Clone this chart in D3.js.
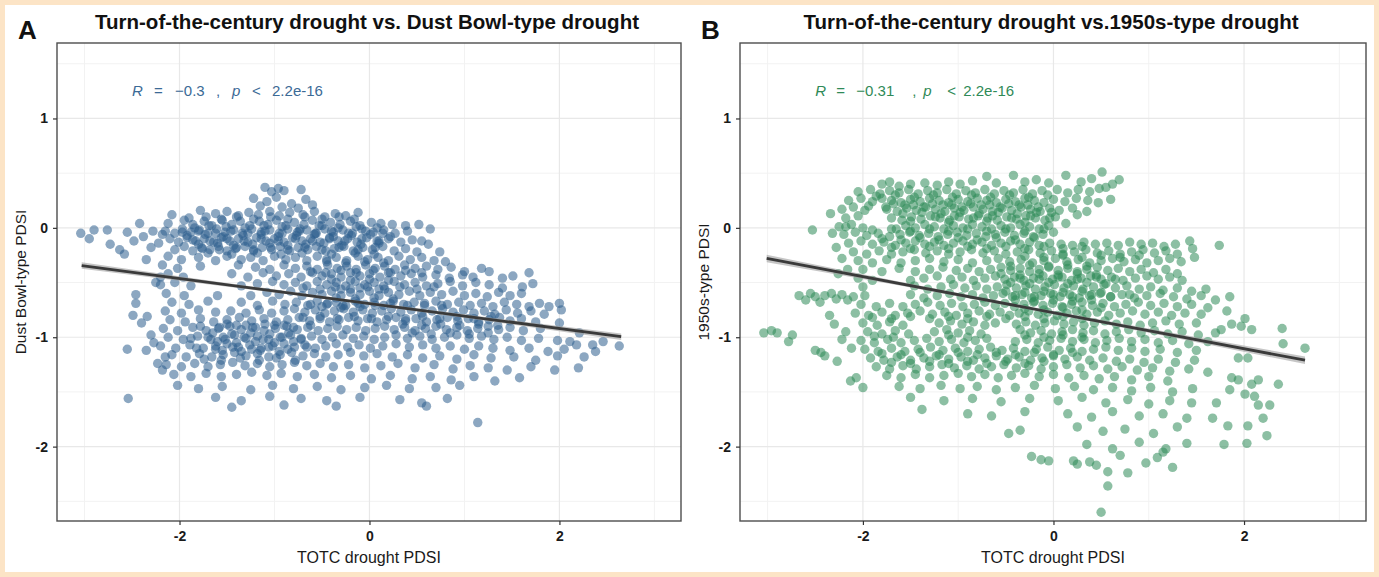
<!DOCTYPE html>
<html>
<head>
<meta charset="utf-8">
<script src="https://cdn.jsdelivr.net/npm/d3@7"></script>
<style>
  body { margin: 0; background: #fce4c6; }
  svg { display: block; font-family: "Liberation Sans", Arial, sans-serif; }
</style>
</head>
<body>
<div id="chart"></div>
<script>
// Axis setup (data units)
const xDomain = [-3.29, 3.28];
const yDomain = [-2.68, 1.69];
const xTicks = [-2, 0, 2];
const yTicks = [-2, -1, 0, 1];
const xMinor = [-3, -1, 1, 3];
const yMinor = [-2.5, -1.5, -0.5, 0.5, 1.5];

// Panel A: TOTC PDSI vs Dust Bowl-type PDSI
const dustPoints = [
  [-3.04,-0.05],[-2.95,-0.10],[-2.90,-0.02],[-2.76,-0.02],[-2.73,-0.15],[-2.63,-0.20],[-2.58,-0.24],[-2.55,-0.04],[-2.42,0.04],[-2.35,-0.29],
  [-2.46,-0.61],[-2.46,-0.69],[-2.49,-0.80],[-2.55,-1.11],[-2.54,-1.56],[-2.40,-0.87],[-2.34,-0.81],[-2.35,-1.12],[-2.23,-1.24],
  [-2.48,-0.12],[-2.38,-0.08],[-2.30,-0.18],[-2.28,-0.03],[-2.22,-0.14],[-2.18,-0.06],[-2.25,-0.50],[-2.20,-0.45],[-2.30,-0.98],[-2.27,-1.05],[-2.18,-1.30],[-2.15,-1.18],
  [-1.10,0.37],[-1.03,0.33],[-0.96,0.36],[-0.90,0.34],[-0.72,0.35],[-1.22,0.27],[-1.08,0.24],[-0.98,0.28],[-0.82,0.22],[-0.67,0.26],[-1.15,0.20],[-0.92,0.19],[-0.75,0.18],[-0.60,0.21],
  [-2.08,0.12],[-1.78,0.16],[-1.62,0.13],[-1.50,0.15],[-1.38,0.11],[-1.27,0.14],[-1.17,0.12],[-1.05,0.15],[-0.95,0.11],[-0.84,0.14],[-0.70,0.12],[-0.58,0.15],[-0.47,0.10],[-0.36,0.13],[-0.25,0.11],[-0.12,0.14],
  [-2.12,0.04],[-1.95,0.07],[-1.86,0.03],[-1.74,0.06],[-1.66,0.02],[-1.55,0.07],[-1.45,0.03],[-1.36,0.06],[-1.26,0.02],[-1.16,0.06],[-1.07,0.03],[-0.98,0.07],[-0.88,0.02],[-0.79,0.05],[-0.69,0.03],[-0.60,0.07],[-0.50,0.02],[-0.41,0.05],[-0.31,0.03],[-0.20,0.06],[-0.10,0.02],[0.02,0.05],[0.12,0.04],[0.24,0.03],[0.38,0.02],[0.52,0.03],[0.64,-0.01],
  [-2.15,-0.03],[-2.05,-0.05],[-1.97,-0.01],[-1.88,-0.04],[-1.79,-0.02],[-1.70,-0.05],[-1.61,-0.01],[-1.52,-0.04],[-1.43,-0.02],[-1.34,-0.05],[-1.24,-0.01],[-1.14,-0.04],[-1.05,-0.02],[-0.95,-0.05],[-0.86,-0.01],[-0.76,-0.04],[-0.66,-0.02],[-0.57,-0.05],[-0.47,-0.01],[-0.38,-0.04],[-0.28,-0.02],[-0.18,-0.05],[-0.08,-0.01],[0.04,-0.04],[0.15,-0.02],[0.27,-0.05],[0.40,-0.03],
  [-2.10,-0.10],[-2.01,-0.13],[-1.92,-0.09],[-1.83,-0.12],[-1.74,-0.10],[-1.64,-0.13],[-1.56,-0.09],[-1.47,-0.12],[-1.38,-0.10],[-1.28,-0.13],[-1.19,-0.09],[-1.09,-0.12],[-1.00,-0.10],[-0.90,-0.13],[-0.81,-0.09],[-0.71,-0.12],[-0.62,-0.10],[-0.52,-0.13],[-0.42,-0.09],[-0.33,-0.12],[-0.23,-0.10],[-0.13,-0.13],[-0.03,-0.09],[0.08,-0.12],[0.20,-0.10],[0.33,-0.13],[0.45,-0.11],
  [-2.05,-0.20],[-1.95,-0.17],[-1.86,-0.21],[-1.77,-0.18],[-1.68,-0.20],[-1.59,-0.17],[-1.50,-0.21],[-1.41,-0.19],[-1.31,-0.17],[-1.22,-0.21],[-1.13,-0.18],[-1.03,-0.20],[-0.94,-0.17],[-0.84,-0.21],[-0.75,-0.18],[-0.65,-0.20],[-0.56,-0.17],[-0.46,-0.21],[-0.37,-0.19],[-0.27,-0.17],[-0.17,-0.21],[-0.07,-0.18],[0.03,-0.20],[0.14,-0.17],[0.26,-0.21],[0.38,-0.19],[0.50,-0.22],
  [-2.12,-0.26],[-1.98,-0.29],[-1.80,-0.27],[-1.62,-0.30],[-1.50,-0.26],[-1.35,-0.29],[-1.25,-0.27],[-1.12,-0.30],[-1.00,-0.26],[-0.88,-0.29],[-0.78,-0.27],[-0.66,-0.30],[-0.55,-0.26],[-0.45,-0.29],[-0.35,-0.27],[-0.24,-0.30],[-0.12,-0.26],[-0.02,-0.29],[0.09,-0.27],[0.20,-0.30],[0.31,-0.26],[0.43,-0.29],[0.55,-0.27],[0.68,-0.30],
  [0.62,-0.15],[0.74,-0.22],[0.80,-0.31],[0.55,-0.12],
  [-1.84,0.00],[-1.69,0.02],[-1.51,0.01],[-1.31,0.00],[-1.11,0.02],[-0.92,0.01],[-0.73,-0.01],[-0.53,0.02],[-0.33,0.00],[-0.14,0.01],[0.08,0.00],
  [-1.92,-0.07],[-1.73,-0.06],[-1.54,-0.08],[-1.33,-0.07],[-1.14,-0.06],[-0.96,-0.08],[-0.77,-0.07],[-0.58,-0.06],[-0.38,-0.08],[-0.19,-0.07],[0.01,-0.06],[0.22,-0.08],
  [-1.80,-0.15],[-1.60,-0.14],[-1.43,-0.16],[-1.23,-0.15],[-1.05,-0.14],[-0.86,-0.16],[-0.67,-0.15],[-0.48,-0.14],[-0.29,-0.16],[-0.09,-0.15],[0.10,-0.14],
  [-1.70,-0.23],[-1.45,-0.24],[-1.18,-0.23],[-0.93,-0.24],[-0.71,-0.23],[-0.40,-0.24],[-0.15,-0.23],[0.05,-0.24],
  [-2.18,-0.34],[-2.02,-0.37],[-1.78,-0.35],[-1.38,-0.34],[-1.20,-0.36],[-1.05,-0.38],[-0.90,-0.34],[-0.78,-0.37],[-0.66,-0.35],[-0.55,-0.38],[-0.44,-0.34],[-0.34,-0.37],[-0.24,-0.35],[-0.14,-0.38],[-0.04,-0.34],[0.06,-0.37],[0.16,-0.35],[0.27,-0.38],[0.37,-0.34],[0.48,-0.37],[0.60,-0.35],[0.72,-0.38],[0.86,-0.36],[1.00,-0.40],[1.18,-0.37],[1.26,-0.40],
  [-2.12,-0.42],[-1.96,-0.45],[-1.45,-0.42],[-1.28,-0.45],[-1.12,-0.41],[-0.98,-0.44],[-0.85,-0.42],[-0.72,-0.45],[-0.60,-0.41],[-0.50,-0.44],[-0.40,-0.42],[-0.30,-0.45],[-0.20,-0.41],[-0.10,-0.44],[0.00,-0.42],[0.11,-0.45],[0.22,-0.41],[0.33,-0.44],[0.44,-0.42],[0.56,-0.45],[0.70,-0.43],[0.84,-0.46],[0.98,-0.43],[1.09,-0.45],[1.40,-0.46],[1.51,-0.44],[1.68,-0.41],
  [-2.20,-0.52],[-2.05,-0.50],[-1.88,-0.53],[-1.35,-0.53],[-1.18,-0.51],[-1.02,-0.49],[-0.90,-0.52],[-0.78,-0.50],[-0.66,-0.53],[-0.55,-0.49],[-0.45,-0.52],[-0.35,-0.50],[-0.25,-0.53],[-0.15,-0.49],[-0.05,-0.52],[0.05,-0.50],[0.15,-0.53],[0.26,-0.49],[0.37,-0.52],[0.48,-0.50],[0.60,-0.53],[0.72,-0.51],[0.85,-0.49],[0.98,-0.53],[1.12,-0.50],[1.26,-0.52],[1.40,-0.55],[1.61,-0.54],[1.72,-0.51],
  [-2.14,-0.60],[-1.95,-0.62],[-1.60,-0.62],[-1.25,-0.62],[-1.08,-0.59],[-0.95,-0.61],[-0.83,-0.58],[-0.71,-0.62],[-0.60,-0.59],[-0.50,-0.61],[-0.40,-0.58],[-0.30,-0.62],[-0.20,-0.59],[-0.10,-0.61],[0.00,-0.58],[0.10,-0.62],[0.20,-0.59],[0.31,-0.61],[0.42,-0.58],[0.53,-0.62],[0.64,-0.59],[0.76,-0.61],[0.88,-0.58],[1.00,-0.62],[1.12,-0.60],[1.24,-0.63],[1.36,-0.59],[1.48,-0.62],[1.60,-0.60],[1.79,-0.69],[1.89,-0.72],[2.00,-0.69],
  [-2.08,-0.68],[-1.90,-0.70],[-1.70,-0.67],[-1.35,-0.68],[-1.18,-0.71],[-1.02,-0.67],[-0.89,-0.70],[-0.77,-0.68],[-0.65,-0.71],[-0.55,-0.67],[-0.45,-0.70],[-0.35,-0.68],[-0.25,-0.71],[-0.15,-0.67],[-0.05,-0.70],[0.05,-0.68],[0.15,-0.71],[0.25,-0.67],[0.36,-0.70],[0.47,-0.68],[0.58,-0.71],[0.70,-0.67],[0.82,-0.70],[0.94,-0.68],[1.06,-0.71],[1.18,-0.69],[1.30,-0.72],[1.42,-0.68],[1.55,-0.70],[1.68,-0.72],[2.02,-0.75],
  [-2.15,-0.76],[-1.98,-0.78],[-1.80,-0.75],[-1.62,-0.77],[-1.46,-0.76],[-1.30,-0.78],[-1.16,-0.75],[-1.03,-0.78],[-0.90,-0.76],[-0.79,-0.74],[-0.68,-0.77],[-0.57,-0.75],[-0.47,-0.78],[-0.37,-0.76],[-0.27,-0.74],[-0.17,-0.77],[-0.07,-0.75],[0.03,-0.78],[0.13,-0.76],[0.23,-0.74],[0.33,-0.77],[0.44,-0.75],[0.55,-0.78],[0.66,-0.76],[0.77,-0.74],[0.88,-0.77],[0.99,-0.75],[1.10,-0.78],[1.21,-0.76],[1.32,-0.79],[1.44,-0.75],[1.56,-0.78],[1.70,-0.76],[1.84,-0.79],
  [-2.10,-0.84],[-1.94,-0.86],[-1.78,-0.83],[-1.64,-0.86],[-1.50,-0.84],[-1.37,-0.82],[-1.24,-0.85],[-1.11,-0.83],[-0.98,-0.86],[-0.86,-0.84],[-0.74,-0.82],[-0.63,-0.85],[-0.52,-0.83],[-0.42,-0.86],[-0.32,-0.84],[-0.22,-0.82],[-0.12,-0.85],[-0.02,-0.83],[0.08,-0.86],[0.18,-0.84],[0.28,-0.82],[0.38,-0.85],[0.49,-0.83],[0.60,-0.86],[0.71,-0.84],[0.82,-0.82],[0.93,-0.85],[1.04,-0.83],[1.15,-0.86],[1.26,-0.84],[1.37,-0.82],[1.48,-0.85],[1.60,-0.83],[1.75,-0.86],[2.00,-0.87],[2.21,-0.96],
  [-2.17,-0.92],[-2.02,-0.94],[-1.86,-0.91],[-1.72,-0.94],[-1.59,-0.92],[-1.47,-0.90],[-1.35,-0.93],[-1.23,-0.91],[-1.11,-0.94],[-0.99,-0.92],[-0.87,-0.90],[-0.76,-0.93],[-0.65,-0.91],[-0.54,-0.94],[-0.44,-0.92],[-0.34,-0.90],[-0.24,-0.93],[-0.14,-0.91],[-0.04,-0.94],[0.06,-0.92],[0.16,-0.90],[0.26,-0.93],[0.37,-0.91],[0.48,-0.94],[0.59,-0.92],[0.70,-0.90],[0.81,-0.93],[0.92,-0.91],[1.03,-0.94],[1.14,-0.92],[1.25,-0.90],[1.36,-0.93],[1.48,-0.91],[1.62,-0.94],[1.80,-0.92],
  [-2.12,-1.00],[-1.96,-1.02],[-1.81,-0.99],[-1.67,-1.02],[-1.54,-1.00],[-1.42,-0.98],[-1.30,-1.01],[-1.18,-0.99],[-1.06,-1.02],[-0.94,-1.00],[-0.83,-0.98],[-0.72,-1.01],[-0.61,-0.99],[-0.50,-1.02],[-0.39,-1.00],[-0.28,-0.98],[-0.17,-1.01],[-0.06,-0.99],[0.05,-1.02],[0.16,-1.00],[0.28,-0.98],[0.40,-1.01],[0.53,-0.99],[0.66,-1.02],[0.79,-1.00],[0.92,-0.98],[1.05,-1.01],[1.18,-0.99],[1.31,-1.02],[1.45,-1.00],[1.60,-1.03],[1.78,-1.01],[1.98,-1.03],[2.11,-1.04],[2.18,-1.07],[2.35,-1.07],[2.46,-1.04],[2.63,-1.08],
  [-2.20,-1.08],[-2.04,-1.10],[-1.89,-1.07],[-1.75,-1.10],[-1.62,-1.08],[-1.50,-1.06],[-1.38,-1.09],[-1.26,-1.07],[-1.14,-1.10],[-1.02,-1.08],[-0.90,-1.06],[-0.79,-1.09],[-0.68,-1.07],[-0.57,-1.10],[-0.46,-1.08],[-0.35,-1.06],[-0.23,-1.09],[-0.11,-1.07],[0.01,-1.10],[0.14,-1.08],[0.28,-1.06],[0.42,-1.09],[0.56,-1.07],[0.70,-1.10],[0.85,-1.08],[1.00,-1.11],[1.15,-1.08],[1.30,-1.10],[1.48,-1.12],[1.68,-1.10],[1.88,-1.13],[2.05,-1.11],[2.26,-1.18],[2.38,-1.13],
  [-2.08,-1.16],[-1.93,-1.18],[-1.79,-1.15],[-1.66,-1.18],[-1.54,-1.16],[-1.42,-1.14],[-1.30,-1.17],[-1.18,-1.15],[-1.06,-1.18],[-0.94,-1.16],[-0.82,-1.14],[-0.70,-1.17],[-0.58,-1.15],[-0.46,-1.18],[-0.33,-1.16],[-0.20,-1.14],[-0.06,-1.17],[0.08,-1.15],[0.24,-1.18],[0.40,-1.16],[0.56,-1.19],[0.74,-1.17],[0.92,-1.20],[1.10,-1.16],[1.28,-1.19],[1.52,-1.18],[1.75,-1.21],[1.98,-1.17],
  [-2.14,-1.25],[-1.98,-1.27],[-1.84,-1.24],[-1.70,-1.27],[-1.57,-1.25],[-1.44,-1.23],[-1.31,-1.26],[-1.18,-1.24],[-1.05,-1.27],[-0.92,-1.25],[-0.79,-1.23],[-0.66,-1.26],[-0.52,-1.24],[-0.38,-1.27],[-0.22,-1.25],[-0.05,-1.28],[0.12,-1.26],[0.30,-1.24],[0.48,-1.28],[0.68,-1.25],[0.88,-1.29],[1.06,-1.26],[1.25,-1.28],[1.45,-1.30],[1.70,-1.27],[1.95,-1.30],[2.20,-1.28],
  [-2.06,-1.34],[-1.88,-1.36],[-1.72,-1.33],[-1.56,-1.36],[-1.40,-1.34],[-1.24,-1.32],[-1.08,-1.35],[-0.93,-1.33],[-0.76,-1.36],[-0.58,-1.34],[-0.40,-1.37],[-0.20,-1.35],[0.02,-1.38],[0.22,-1.35],[0.45,-1.38],[0.64,-1.36],[0.86,-1.39],[1.10,-1.36],[1.32,-1.40],[1.58,-1.37],
  [-2.02,-1.44],[-1.80,-1.47],[-1.55,-1.45],[-1.25,-1.48],[-1.02,-1.44],[-0.80,-1.47],[-0.55,-1.45],[-0.30,-1.48],[-0.05,-1.46],[0.18,-1.44],[0.42,-1.47],[0.70,-1.46],[0.95,-1.44],
  [-1.62,-1.55],[-1.35,-1.58],[-1.05,-1.54],[-0.72,-1.56],[-0.45,-1.58],[-0.10,-1.55],[0.32,-1.57],[0.55,-1.60],[0.82,-1.56],
  [-1.45,-1.64],[-0.90,-1.62],[-0.35,-1.63],[0.60,-1.63],[1.14,-1.78],
  [-0.45,-0.31],[-0.25,-0.32],[-0.05,-0.31],[0.15,-0.32],[-0.40,-0.47],[-0.20,-0.48],[0.00,-0.47],[0.20,-0.48],[-0.35,-0.64],[-0.15,-0.65],[0.05,-0.64],[0.25,-0.65],[-0.30,-0.56],[-0.10,-0.55],[0.10,-0.56],[-0.50,-0.72],[-0.30,-0.73],[-0.10,-0.72],
  [-1.65,-0.96],[-1.45,-0.97],[-1.25,-0.96],[-1.05,-0.97],[-0.85,-0.96],[-1.60,-1.04],[-1.40,-1.05],[-1.20,-1.04],[-1.00,-1.05],[-0.80,-1.04],[-1.55,-1.12],[-1.35,-1.13],[-1.15,-1.12],[-0.95,-1.13],[-1.50,-0.88],[-1.30,-0.89],[-1.10,-0.88],[-0.90,-0.89],
  [0.35,-0.88],[0.55,-0.89],[0.75,-0.88],[0.95,-0.89],[1.15,-0.88],[1.35,-0.89],[0.45,-0.96],[0.65,-0.97],[0.85,-0.96],[1.05,-0.97],[1.25,-0.96]
];

// Panel A: extra points in the darkest parts of the cloud
const dustDense = [
  [-1.90,0.09],[-1.72,0.10],[-1.56,0.08],[-1.40,0.10],[-1.22,0.08],[-1.04,0.10],[-0.86,0.08],[-0.68,0.10],[-0.50,0.08],[-0.32,0.10],[-0.16,0.08],
  [-1.97,-0.04],[-1.80,-0.03],[-1.62,-0.05],[-1.46,-0.03],[-1.28,-0.05],[-1.10,-0.03],[-0.92,-0.05],[-0.74,-0.03],[-0.56,-0.05],[-0.40,-0.03],[-0.22,-0.05],[-0.04,-0.03],[0.14,-0.05],
  [-1.86,-0.11],[-1.68,-0.12],[-1.50,-0.10],[-1.32,-0.12],[-1.14,-0.10],[-0.96,-0.12],[-0.78,-0.10],[-0.60,-0.12],[-0.42,-0.10],[-0.26,-0.12],[-0.08,-0.10],[0.10,-0.12],
  [-1.76,-0.19],[-1.58,-0.20],[-1.40,-0.18],[-1.22,-0.20],[-1.04,-0.18],[-0.86,-0.20],[-0.68,-0.18],[-0.50,-0.20],[-0.32,-0.18],[-0.12,-0.20],[0.06,-0.18],
  [-0.62,-0.40],[-0.46,-0.41],[-0.30,-0.39],[-0.14,-0.41],[0.04,-0.39],[0.20,-0.41],[0.38,-0.39],[0.55,-0.41],
  [-0.70,-0.55],[-0.52,-0.56],[-0.36,-0.54],[-0.20,-0.56],[-0.02,-0.54],[0.16,-0.56],[0.32,-0.54],[0.50,-0.56],[0.68,-0.54],
  [-0.62,-0.70],[-0.44,-0.69],[-0.28,-0.71],[-0.12,-0.69],[0.06,-0.71],[0.22,-0.69],[0.40,-0.71],[0.58,-0.69],[0.76,-0.71],
  [-0.70,-0.82],[-0.52,-0.81],[-0.34,-0.83],[-0.16,-0.81],[0.02,-0.83],[0.20,-0.81],[0.38,-0.83],[0.56,-0.81],[0.74,-0.83],[0.92,-0.81],[1.10,-0.83],[1.28,-0.81],
  [-1.78,-0.90],[-1.58,-0.91],[-1.40,-0.89],[-1.20,-0.91],[-1.00,-0.89],[-0.80,-0.91],[-0.62,-0.89],
  [-1.88,-1.01],[-1.70,-1.00],[-1.52,-1.02],[-1.32,-1.00],[-1.12,-1.02],[-0.92,-1.00],[-0.72,-1.02],
  [-1.82,-1.10],[-1.62,-1.11],[-1.44,-1.09],[-1.24,-1.11],[-1.06,-1.09],[-0.86,-1.11],[-0.66,-1.09],
  [-1.74,-1.20],[-1.56,-1.21],[-1.36,-1.19],[-1.16,-1.21],[-0.98,-1.19],[-0.78,-1.21]
];

// Panel B: TOTC PDSI vs 1950s-type PDSI
const fiftiesPoints = [
  [-3.04,-0.96],[-2.96,-0.94],[-2.90,-0.96],[-2.78,-1.04],[-2.74,-0.98],[-2.53,-0.02],[-2.50,-1.12],[-2.44,-1.14],[-2.40,-1.17],[-2.27,-1.22],[-2.13,-1.40],[-2.07,-1.37],[-2.00,-1.46],
  [-2.67,-0.62],[-2.60,-0.66],[-2.55,-0.60],[-2.50,-0.63],[-2.45,-0.68],[-2.40,-0.62],[-2.33,-0.60],[-2.28,-0.65],[-2.22,-0.61],[-2.16,-0.66],[-2.10,-0.63],
  [-2.32,-0.05],[-2.28,-0.18],[-2.22,-0.28],[-2.26,-0.42],[-2.16,-0.38],[-2.35,-0.80],[-2.30,-0.88],[-2.18,-0.95],[-2.22,-1.02],[-2.12,-1.10],[-2.34,0.13],[-2.18,0.01],
  [-1.80,0.40],[-1.72,0.42],[-1.62,0.38],[-1.50,0.40],[-1.35,0.41],[-1.22,0.39],[-1.10,0.42],[-0.98,0.40],[-0.85,0.43],[-0.70,0.47],[-0.60,0.41],[-0.42,0.48],[-0.30,0.42],[-0.18,0.44],[-0.05,0.41],
  [0.13,0.48],[0.29,0.42],[0.40,0.45],[0.51,0.51],[0.62,0.40],[0.69,0.44],[0.55,0.37],[0.60,0.26],[0.04,0.35],
  [-2.05,0.33],[-1.92,0.35],[-1.82,0.31],[-1.72,0.34],[-1.62,0.32],[-1.52,0.35],[-1.42,0.31],[-1.32,0.34],[-1.22,0.32],[-1.12,0.35],[-1.02,0.31],[-0.92,0.34],[-0.82,0.32],[-0.72,0.35],[-0.62,0.31],[-0.52,0.34],[-0.42,0.32],[-0.32,0.35],[-0.22,0.31],[-0.12,0.34],[0.15,0.32],[0.26,0.35],[0.38,0.33],[0.48,0.36],
  [-2.15,0.25],[-2.02,0.27],[-1.90,0.24],[-1.80,0.27],[-1.70,0.25],[-1.60,0.23],[-1.50,0.26],[-1.40,0.24],[-1.30,0.27],[-1.20,0.25],[-1.10,0.23],[-1.00,0.26],[-0.90,0.24],[-0.80,0.27],[-0.70,0.25],[-0.60,0.23],[-0.50,0.26],[-0.40,0.24],[-0.30,0.27],[-0.20,0.25],[-0.10,0.23],[0.00,0.26],[0.12,0.24],[0.24,0.27],[0.36,0.25],[0.47,0.23],
  [-2.22,0.17],[-2.10,0.19],[-1.98,0.16],[-1.75,0.17],[-1.64,0.15],[-1.54,0.18],[-1.44,0.16],[-1.34,0.19],[-1.24,0.17],[-1.14,0.15],[-1.04,0.18],[-0.94,0.16],[-0.84,0.19],[-0.74,0.17],[-0.64,0.15],[-0.54,0.18],[-0.44,0.16],[-0.34,0.19],[-0.24,0.17],[-0.14,0.15],[-0.04,0.18],[0.06,0.16],[0.20,0.18],[0.35,0.15],
  [-2.18,0.09],[-2.05,0.11],[-1.70,0.09],[-1.59,0.07],[-1.49,0.10],[-1.39,0.08],[-1.29,0.11],[-1.19,0.09],[-1.09,0.07],[-0.99,0.10],[-0.89,0.08],[-0.79,0.11],[-0.69,0.09],[-0.59,0.07],[-0.49,0.10],[-0.39,0.08],[-0.29,0.11],[-0.19,0.09],[-0.09,0.07],[0.02,0.10],[0.13,0.04],[0.25,0.12],[-0.02,0.14],
  [-2.25,0.01],[-2.12,0.03],[-2.00,0.00],[-1.65,-0.01],[-1.55,0.02],[-1.45,0.00],[-1.35,0.03],[-1.25,0.01],[-1.15,-0.01],[-1.05,0.02],[-0.95,0.00],[-0.85,0.03],[-0.75,0.01],[-0.65,-0.01],[-0.55,0.02],[-0.45,0.00],[-0.35,0.03],[-0.25,0.01],[-0.15,-0.01],[-0.05,0.02],
  [-2.20,-0.06],[-2.08,-0.04],[-1.96,-0.07],[-1.84,-0.05],[-1.72,-0.08],[-1.61,-0.06],[-1.51,-0.04],[-1.41,-0.07],[-1.31,-0.05],[-1.21,-0.08],[-1.11,-0.06],[-1.01,-0.04],[-0.91,-0.07],[-0.81,-0.05],[-0.71,-0.08],[-0.61,-0.06],[-0.51,-0.04],[-0.41,-0.07],[-0.31,-0.05],[-0.21,-0.08],[-0.11,-0.06],[0.00,-0.04],
  [-2.15,-0.14],[-2.02,-0.12],[-1.90,-0.15],[-1.78,-0.13],[-1.66,-0.16],[-1.55,-0.14],[-1.45,-0.12],[-1.35,-0.15],[-1.25,-0.13],[-1.15,-0.16],[-1.05,-0.14],[-0.95,-0.12],[-0.85,-0.15],[-0.75,-0.13],[-0.65,-0.16],[-0.55,-0.14],[-0.45,-0.12],[-0.35,-0.15],[-0.25,-0.13],[-0.15,-0.16],[-0.04,-0.14],[0.08,-0.15],[0.20,-0.16],[0.32,-0.13],[0.44,-0.15],[0.56,-0.14],[0.68,-0.16],[0.80,-0.13],[0.92,-0.15],[1.04,-0.14],[1.16,-0.17],[1.28,-0.15],[1.43,-0.12],[1.74,-0.16],
  [-2.10,-0.22],[-1.96,-0.24],[-1.83,-0.21],[-1.70,-0.24],[-1.58,-0.22],[-1.46,-0.20],[-1.34,-0.23],[-1.22,-0.21],[-1.10,-0.24],[-0.98,-0.22],[-0.86,-0.20],[-0.74,-0.23],[-0.62,-0.21],[-0.50,-0.24],[-0.38,-0.22],[-0.26,-0.20],[-0.14,-0.23],[-0.02,-0.21],[0.10,-0.24],[0.22,-0.22],[0.34,-0.20],[0.46,-0.23],[0.58,-0.21],[0.70,-0.24],[0.82,-0.22],[0.94,-0.20],[1.06,-0.23],[1.18,-0.21],[1.30,-0.24],[1.46,-0.19],[1.48,-0.27],
  [-2.05,-0.30],[-1.90,-0.32],[-1.75,-0.29],[-1.60,-0.32],[-1.45,-0.30],[-1.30,-0.28],[-1.15,-0.31],[-1.00,-0.29],[-0.85,-0.32],[-0.70,-0.30],[-0.58,-0.28],[-0.46,-0.31],[-0.34,-0.29],[-0.22,-0.32],[-0.10,-0.30],[0.02,-0.28],[0.14,-0.31],[0.26,-0.29],[0.38,-0.32],[0.50,-0.30],[0.62,-0.28],[0.74,-0.31],[0.86,-0.29],[0.98,-0.32],[1.10,-0.30],[1.22,-0.28],[1.34,-0.31],
  [-1.68,0.22],[-1.47,0.21],[-1.27,0.22],[-1.07,0.21],[-0.87,0.22],[-0.67,0.21],[-0.47,0.22],[-0.27,0.21],[-1.58,0.13],[-1.38,0.14],[-1.18,0.13],[-0.98,0.14],[-0.78,0.13],[-0.58,0.14],[-0.38,0.13],[-0.18,0.14],[-1.50,0.06],[-1.10,0.05],[-0.70,0.06],[-0.30,0.05],
  [-2.00,-0.38],[-1.80,-0.40],[-1.62,-0.37],[-1.45,-0.40],[-1.30,-0.38],[-1.16,-0.36],[-1.02,-0.39],[-0.90,-0.37],[-0.78,-0.40],[-0.66,-0.38],[-0.55,-0.36],[-0.45,-0.39],[-0.35,-0.37],[-0.25,-0.40],[-0.15,-0.38],[-0.05,-0.36],[0.05,-0.39],[0.15,-0.37],[0.25,-0.40],[0.35,-0.38],[0.46,-0.36],[0.57,-0.39],[0.68,-0.37],[0.80,-0.40],[0.92,-0.38],[1.05,-0.41],[1.18,-0.38],[1.30,-0.42],
  [-2.05,-0.46],[-1.90,-0.48],[-1.50,-0.48],[-1.36,-0.46],[-1.22,-0.44],[-1.08,-0.47],[-0.96,-0.45],[-0.84,-0.48],[-0.72,-0.46],[-0.61,-0.44],[-0.51,-0.47],[-0.41,-0.45],[-0.31,-0.48],[-0.21,-0.46],[-0.11,-0.44],[-0.01,-0.47],[0.09,-0.45],[0.19,-0.48],[0.29,-0.46],[0.39,-0.44],[0.50,-0.47],[0.61,-0.45],[0.73,-0.48],[0.86,-0.46],[0.98,-0.44],[1.10,-0.47],[1.22,-0.45],[1.35,-0.48],
  [-2.00,-0.54],[-1.46,-0.53],[-1.32,-0.56],[-1.18,-0.54],[-1.05,-0.52],[-0.93,-0.55],[-0.81,-0.53],[-0.70,-0.56],[-0.59,-0.54],[-0.49,-0.52],[-0.39,-0.55],[-0.29,-0.53],[-0.19,-0.56],[-0.09,-0.54],[0.01,-0.52],[0.11,-0.55],[0.21,-0.53],[0.31,-0.56],[0.42,-0.54],[0.53,-0.52],[0.65,-0.55],[0.77,-0.53],[0.90,-0.56],[1.02,-0.54],[1.15,-0.57],[1.30,-0.55],[1.45,-0.58],[1.60,-0.56],
  [-1.98,-0.62],[-1.50,-0.61],[-1.36,-0.64],[-1.22,-0.62],[-1.09,-0.60],[-0.97,-0.63],[-0.85,-0.61],[-0.74,-0.64],[-0.63,-0.62],[-0.53,-0.60],[-0.43,-0.63],[-0.33,-0.61],[-0.23,-0.64],[-0.13,-0.62],[-0.03,-0.60],[0.07,-0.63],[0.17,-0.61],[0.27,-0.64],[0.38,-0.62],[0.49,-0.60],[0.60,-0.63],[0.72,-0.61],[0.85,-0.64],[0.98,-0.62],[1.12,-0.60],[1.26,-0.63],[1.40,-0.65],[1.55,-0.62],[1.70,-0.66],[1.85,-0.63],
  [-0.55,-0.42],[-0.35,-0.43],[-0.15,-0.42],[0.05,-0.43],[0.25,-0.42],[0.45,-0.43],[-0.45,-0.50],[-0.25,-0.51],[-0.05,-0.50],[0.15,-0.51],[0.35,-0.50],[0.55,-0.51],[-0.50,-0.58],[-0.30,-0.59],[-0.10,-0.58],[0.10,-0.59],[0.30,-0.58],[0.50,-0.59],[-0.40,-0.66],[-0.20,-0.67],[0.00,-0.66],[0.20,-0.67],[0.40,-0.66],[-0.45,-0.35],[-0.25,-0.34],[-0.05,-0.35],[0.15,-0.34],[0.35,-0.35],
  [-2.02,-0.70],[-1.86,-0.72],[-1.72,-0.69],[-1.58,-0.72],[-1.45,-0.70],[-1.32,-0.68],[-1.19,-0.71],[-1.07,-0.69],[-0.95,-0.72],[-0.83,-0.70],[-0.72,-0.68],[-0.61,-0.71],[-0.51,-0.69],[-0.41,-0.72],[-0.31,-0.70],[-0.21,-0.68],[-0.11,-0.71],[-0.01,-0.69],[0.09,-0.72],[0.19,-0.70],[0.30,-0.68],[0.41,-0.71],[0.52,-0.69],[0.64,-0.72],[0.76,-0.70],[0.89,-0.68],[1.02,-0.71],[1.16,-0.69],[1.30,-0.72],[1.45,-0.70],[1.62,-0.73],[1.82,-0.76],
  [-2.08,-0.78],[-1.94,-0.80],[-1.80,-0.77],[-1.66,-0.80],[-1.53,-0.78],[-1.40,-0.76],[-1.27,-0.79],[-1.14,-0.77],[-1.02,-0.80],[-0.90,-0.78],[-0.78,-0.76],[-0.67,-0.79],[-0.56,-0.77],[-0.46,-0.80],[-0.36,-0.78],[-0.26,-0.76],[-0.16,-0.79],[-0.06,-0.77],[0.04,-0.80],[0.14,-0.78],[0.24,-0.76],[0.35,-0.79],[0.46,-0.77],[0.58,-0.80],[0.70,-0.78],[0.83,-0.76],[0.96,-0.79],[1.10,-0.77],[1.24,-0.80],[1.38,-0.78],[1.55,-0.79],[1.87,-0.88],[2.01,-0.83],
  [-2.00,-0.87],[-1.85,-0.89],[-1.72,-0.86],[-1.58,-0.89],[-1.20,-0.87],[-1.08,-0.85],[-0.96,-0.88],[-0.84,-0.86],[-0.72,-0.89],[-0.61,-0.87],[-0.39,-0.88],[-0.29,-0.86],[-0.19,-0.89],[-0.09,-0.87],[0.01,-0.85],[0.11,-0.88],[0.21,-0.86],[0.32,-0.89],[0.43,-0.87],[0.54,-0.85],[0.66,-0.88],[0.78,-0.86],[0.91,-0.89],[1.04,-0.87],[1.18,-0.85],[1.32,-0.88],[1.50,-0.87],[1.76,-0.93],[1.97,-0.90],[2.08,-0.93],[2.40,-0.92],
  [-1.95,-0.95],[-1.80,-0.97],[-1.66,-0.94],[-1.52,-0.97],[-1.25,-0.95],[-1.12,-0.93],[-1.00,-0.96],[-0.88,-0.94],[-0.76,-0.97],[-0.35,-0.93],[-0.24,-0.96],[-0.13,-0.94],[-0.02,-0.97],[0.09,-0.95],[0.20,-0.93],[0.31,-0.96],[0.42,-0.94],[0.54,-0.97],[0.66,-0.95],[0.79,-0.93],[0.92,-0.96],[1.06,-0.94],[1.20,-0.97],[1.35,-0.95],[1.52,-0.98],[1.70,-0.96],
  [-2.02,-1.03],[-1.88,-1.05],[-1.74,-1.02],[-1.60,-1.05],[-1.46,-1.03],[-1.33,-1.01],[-1.20,-1.04],[-1.07,-1.02],[-0.94,-1.05],[-0.82,-1.03],[-0.70,-1.01],[-0.40,-1.04],[-0.28,-1.02],[-0.16,-1.05],[-0.04,-1.03],[0.08,-1.01],[0.20,-1.04],[0.32,-1.02],[0.44,-1.05],[0.56,-1.03],[0.69,-1.01],[0.82,-1.04],[0.96,-1.02],[1.10,-1.05],[1.25,-1.03],[1.42,-1.06],[1.62,-1.04],[2.41,-1.06],[2.64,-1.10],
  [-1.98,-1.11],[-1.84,-1.13],[-1.70,-1.10],[-1.56,-1.13],[-1.42,-1.11],[-1.29,-1.09],[-1.16,-1.12],[-1.03,-1.10],[-0.90,-1.13],[-0.78,-1.11],[-0.66,-1.09],[-0.54,-1.12],[-0.42,-1.10],[-0.30,-1.13],[-0.18,-1.11],[-0.06,-1.09],[0.06,-1.12],[0.18,-1.10],[0.30,-1.13],[0.42,-1.11],[0.55,-1.09],[0.68,-1.12],[0.82,-1.10],[0.96,-1.13],[1.12,-1.11],[1.30,-1.14],[1.50,-1.12],
  [-1.92,-1.19],[-1.78,-1.21],[-1.64,-1.18],[-1.50,-1.21],[-1.36,-1.19],[-1.23,-1.17],[-1.10,-1.20],[-0.97,-1.18],[-0.84,-1.21],[-0.72,-1.19],[-0.60,-1.17],[-0.48,-1.20],[-0.36,-1.18],[-0.24,-1.21],[-0.12,-1.19],[0.00,-1.17],[0.12,-1.20],[0.25,-1.18],[0.38,-1.21],[0.52,-1.19],[0.66,-1.22],[0.80,-1.20],[0.95,-1.23],[1.10,-1.20],[1.28,-1.23],[1.48,-1.21],[1.94,-1.19],[2.04,-1.19],
  [-1.86,-1.27],[-1.72,-1.29],[-1.58,-1.26],[-1.44,-1.29],[-1.30,-1.27],[-1.17,-1.25],[-1.04,-1.28],[-0.91,-1.26],[-0.78,-1.29],[-0.65,-1.27],[-0.52,-1.25],[-0.39,-1.28],[-0.26,-1.26],[-0.13,-1.29],[0.00,-1.27],[0.14,-1.25],[0.28,-1.28],[0.42,-1.26],[0.57,-1.29],[0.72,-1.27],[0.88,-1.30],[1.04,-1.28],[1.22,-1.31],[1.42,-1.29],[1.62,-1.32],
  [-1.75,-1.35],[-1.60,-1.37],[-1.45,-1.34],[-1.30,-1.37],[-1.15,-1.35],[-1.00,-1.33],[-0.86,-1.36],[-0.72,-1.34],[-0.58,-1.37],[-0.44,-1.35],[-0.30,-1.33],[-0.15,-1.36],[0.00,-1.34],[0.16,-1.37],[0.32,-1.35],[0.48,-1.38],[0.64,-1.36],[0.82,-1.39],[1.00,-1.36],[1.20,-1.40],[1.87,-1.37],[1.94,-1.39],[2.15,-1.39],
  [-1.62,-1.45],[-1.40,-1.47],[-1.18,-1.44],[-0.98,-1.47],[-0.80,-1.45],[-0.60,-1.48],[-0.40,-1.46],[-0.20,-1.44],[0.02,-1.47],[0.22,-1.45],[0.42,-1.48],[0.62,-1.46],[0.82,-1.49],[1.02,-1.46],[1.25,-1.50],[1.46,-1.47],[1.85,-1.48],[2.08,-1.43],[2.36,-1.43],
  [-1.50,-1.55],[-1.15,-1.58],[-0.85,-1.56],[-0.55,-1.59],[-0.25,-1.56],[0.05,-1.58],[0.30,-1.55],[0.55,-1.60],[0.78,-1.57],[1.00,-1.61],[1.22,-1.58],[1.45,-1.60],[1.71,-1.60],[2.01,-1.52],[2.11,-1.54],[2.15,-1.62],[2.27,-1.62],
  [-1.38,-1.66],[-0.90,-1.70],[-0.65,-1.72],[-0.30,-1.68],[0.15,-1.70],[0.40,-1.73],[0.62,-1.68],[0.90,-1.72],[1.15,-1.70],[1.40,-1.74],[1.67,-1.74],[2.20,-1.74],
  [-0.47,-1.88],[-0.35,-1.85],[0.25,-1.82],[0.52,-1.86],[0.75,-1.84],[1.05,-1.88],[1.30,-1.82],[1.83,-1.81],[2.04,-1.81],[2.24,-1.90],
  [-0.23,-2.09],[-0.13,-2.12],[-0.05,-2.13],[0.35,-1.98],[0.62,-2.02],[0.90,-1.96],[1.15,-2.05],[1.40,-1.97],[1.79,-1.98],[2.03,-1.97],
  [0.21,-2.13],[0.25,-2.16],[0.38,-2.14],[0.45,-2.17],[0.57,-2.23],[0.78,-2.24],[0.57,-2.36],[0.50,-2.60],[0.97,-2.15],[1.09,-2.10],[1.25,-2.19],[0.70,-2.08],[1.18,-2.02]
];

// Panel B: extra points in the darkest parts of the cloud
const fiftiesDense = [
  [-1.86,0.29],[-1.66,0.30],[-1.46,0.28],[-1.26,0.30],[-1.06,0.28],[-0.86,0.30],[-0.66,0.28],[-0.46,0.30],[-0.26,0.28],[-0.06,0.30],
  [-1.94,0.20],[-1.76,0.19],[-1.56,0.21],[-1.36,0.19],[-1.16,0.21],[-0.96,0.19],[-0.76,0.21],[-0.56,0.19],[-0.36,0.21],[-0.16,0.19],
  [-1.24,0.10],[-1.04,0.11],[-0.84,0.09],[-0.64,0.11],[-0.44,0.09],[-0.24,0.11],[-0.04,0.09],
  [-1.90,-0.02],[-1.70,-0.01],[-1.50,-0.03],[-1.30,-0.01],[-1.10,-0.03],[-0.90,-0.01],[-0.70,-0.03],[-0.50,-0.01],[-0.30,-0.03],[-0.10,-0.01],
  [-1.80,-0.10],[-1.60,-0.11],[-1.40,-0.09],[-1.20,-0.11],[-1.00,-0.09],[-0.80,-0.11],[-0.60,-0.09],[-0.40,-0.11],[-0.20,-0.09],
  [-1.70,-0.18],[-1.50,-0.19],[-1.30,-0.17],[-1.10,-0.19],[-0.90,-0.17],[-0.70,-0.19],[-0.50,-0.17],[-0.30,-0.19],[-0.10,-0.17],[0.10,-0.19],[0.30,-0.17],
  [-0.30,-0.26],[-0.10,-0.27],[0.10,-0.25],[0.30,-0.27],[0.50,-0.25],[0.70,-0.27],[0.90,-0.25],
  [-0.35,-0.46],[-0.15,-0.47],[0.05,-0.45],[0.25,-0.47],[0.45,-0.45],[0.65,-0.47],
  [-0.40,-0.62],[-0.20,-0.63],[0.00,-0.61],[0.20,-0.63],[0.40,-0.61],[0.60,-0.63],[0.80,-0.61],
  [-0.30,-0.74],[-0.10,-0.75],[0.10,-0.73],[0.30,-0.75],[0.50,-0.73],
  [-1.90,-0.82],[-1.70,-0.83],[-1.50,-0.81],[-1.30,-0.83],[-1.10,-0.81],[-0.90,-0.83],[-0.70,-0.81],[-0.50,-0.83],[-0.30,-0.81],[-0.10,-0.83],[0.10,-0.81],[0.30,-0.83],
  [-1.88,-0.99],[-1.68,-1.00],[-1.10,-0.98],[-0.90,-1.00],[-0.30,-0.98],[-0.10,-1.00],[0.10,-0.98],[0.30,-1.00],
  [-1.80,-1.15],[-1.60,-1.16],[-1.40,-1.14],[-1.20,-1.16],[-1.00,-1.14],[-0.80,-1.16],[-0.60,-1.14],[-0.40,-1.16],[-0.20,-1.14],[0.00,-1.16],[0.20,-1.14],
  [-1.70,-1.23],[-1.50,-1.24],[-1.30,-1.22],[-1.10,-1.24],[-0.90,-1.22],[-0.70,-1.24],[-0.50,-1.22],[-0.30,-1.24],[-0.10,-1.22]
];

// Linear fits and confidence bands [x, low, high]
const dustFit = [[-3.03, -0.345], [2.65, -0.995]];
const dustBand = [[-3.03,-0.375,-0.315],[-1.6,-0.526,-0.492],[-0.2,-0.681,-0.657],[1.2,-0.846,-0.812],[2.65,-1.025,-0.965]];
const fiftiesFit = [[-3.01, -0.28], [2.64, -1.21]];
const fiftiesBand = [[-3.01,-0.315,-0.245],[-1.6,-0.530,-0.494],[-0.2,-0.756,-0.729],[1.2,-0.993,-0.953],[2.64,-1.245,-1.175]];

// Stat label pieces and their pixel offsets from the label start
const dustStat = ['R', '=', '\u22120.3', ',', 'p', '<', '2.2e-16'];
const dustStatDx = [0, 22, 43, 84, 100, 120, 140];
const fiftiesStat = ['R', '=', '\u22120.31', ',', 'p', '<', '2.2e-16'];
const fiftiesStatDx = [0, 21, 41, 97, 108, 132, 148];

const panels = [
  { tag: 'A', title: 'Turn-of-the-century drought vs. Dust Bowl-type drought', ylab: 'Dust Bowl-type PDSI',
    stat: dustStat, statDx: dustStatDx, statColor: '#3b6a96',
    color: '#2d5f8e', points: dustPoints.concat(dustDense), fit: dustFit, band: dustBand, left: 57, width: 624 },
  { tag: 'B', title: 'Turn-of-the-century drought vs.1950s-type drought', ylab: '1950s-type PDSI',
    stat: fiftiesStat, statDx: fiftiesStatDx, statColor: '#2f8a57',
    color: '#2e8b57', points: fiftiesPoints.concat(fiftiesDense), fit: fiftiesFit, band: fiftiesBand, left: 740, width: 626 }
];

const panelTop = 43, panelHeight = 478;
const xLabel = 'TOTC drought PDSI';

const svg = d3.select('#chart').append('svg')
    .attr('width', 1379)
    .attr('height', 577);

// page frame
svg.append('rect').attr('width', 1379).attr('height', 577).attr('fill', '#fce4c6');
svg.append('rect').attr('x', 5).attr('y', 5).attr('width', 1369).attr('height', 567).attr('fill', '#ffffff');

panels.forEach(p => drawPanel(p));

function drawPanel(p) {
    const x = d3.scaleLinear().domain(xDomain).range([p.left, p.left + p.width]);
    const y = d3.scaleLinear().domain(yDomain).range([panelTop + panelHeight, panelTop]);
    const g = svg.append('g');

    // grid
    g.selectAll('.gxm').data(xMinor).enter().append('line')
        .attr('x1', d => x(d)).attr('x2', d => x(d)).attr('y1', panelTop).attr('y2', panelTop + panelHeight)
        .attr('stroke', '#f2f2f2').attr('stroke-width', 1);
    g.selectAll('.gym').data(yMinor).enter().append('line')
        .attr('y1', d => y(d)).attr('y2', d => y(d)).attr('x1', p.left).attr('x2', p.left + p.width)
        .attr('stroke', '#f2f2f2').attr('stroke-width', 1);
    g.selectAll('.gx').data(xTicks).enter().append('line')
        .attr('x1', d => x(d)).attr('x2', d => x(d)).attr('y1', panelTop).attr('y2', panelTop + panelHeight)
        .attr('stroke', '#e8e8e8').attr('stroke-width', 1.2);
    g.selectAll('.gy').data(yTicks).enter().append('line')
        .attr('y1', d => y(d)).attr('y2', d => y(d)).attr('x1', p.left).attr('x2', p.left + p.width)
        .attr('stroke', '#e8e8e8').attr('stroke-width', 1.2);

    // points
    g.append('g').selectAll('circle').data(p.points).enter().append('circle')
        .attr('cx', d => x(d[0]))
        .attr('cy', d => y(d[1]))
        .attr('r', 4.7)
        .attr('fill', p.color)
        .attr('fill-opacity', 0.55);

    // confidence band + fit line
    const area = d3.area().x(d => x(d[0])).y0(d => y(d[1])).y1(d => y(d[2]));
    g.append('path').datum(p.band).attr('d', area).attr('fill', '#a0a0a0').attr('fill-opacity', 0.6);
    g.append('path').datum(p.fit)
        .attr('d', d3.line().x(d => x(d[0])).y(d => y(d[1])))
        .attr('stroke', '#3a3a3a').attr('stroke-width', 2.8).attr('fill', 'none');

    // stat label
    const sx = x(-2.5), sy = 96;
    g.selectAll('.stat').data(p.stat).enter().append('text')
        .attr('x', (d, i) => sx + p.statDx[i]).attr('y', sy)
        .attr('font-size', 15)
        .attr('font-style', (d, i) => (i === 0 || i === 4) ? 'italic' : 'normal')
        .attr('fill', p.statColor)
        .text(d => d);

    // panel border
    g.append('rect')
        .attr('x', p.left).attr('y', panelTop).attr('width', p.width).attr('height', panelHeight)
        .attr('fill', 'none').attr('stroke', '#4d4d4d').attr('stroke-width', 1.4);

    // axes
    const xAxis = g.append('g')
        .attr('transform', 'translate(0,' + (panelTop + panelHeight) + ')')
        .call(d3.axisBottom(x).tickValues(xTicks).tickSize(4).tickPadding(6));
    const yAxis = g.append('g')
        .attr('transform', 'translate(' + p.left + ',0)')
        .call(d3.axisLeft(y).tickValues(yTicks).tickSize(4).tickPadding(5));
    [xAxis, yAxis].forEach(a => {
        a.select('.domain').remove();
        a.selectAll('line').attr('stroke', '#333333').attr('stroke-width', 1.2);
        a.selectAll('text')
            .attr('font-family', '"Liberation Sans", Arial, sans-serif')
            .attr('font-size', 14).attr('font-weight', 'bold').attr('fill', '#1a1a1a')
            .text(d => d < 0 ? '-' + Math.abs(d) : d);
    });

    // axis titles
    g.append('text')
        .attr('x', p.left + p.width / 2).attr('y', 563)
        .attr('text-anchor', 'middle').attr('font-size', 16).attr('fill', '#1a1a1a')
        .text(xLabel);
    g.append('text')
        .attr('transform', 'translate(' + (p.left - 31) + ',' + (panelTop + panelHeight / 2) + ') rotate(-90)')
        .attr('text-anchor', 'middle').attr('font-size', 15.5).attr('fill', '#1a1a1a')
        .text(p.ylab);

    // title and tag
    g.append('text')
        .attr('x', p.left + p.width / 2 - 2).attr('y', 29)
        .attr('text-anchor', 'middle').attr('font-size', 20.5).attr('font-weight', 'bold').attr('fill', '#111')
        .text(p.title);
    g.append('text')
        .attr('x', p.left - 39).attr('y', 39)
        .attr('font-size', 26).attr('font-weight', 'bold').attr('fill', '#111')
        .text(p.tag);
}
</script>
</body>
</html>
